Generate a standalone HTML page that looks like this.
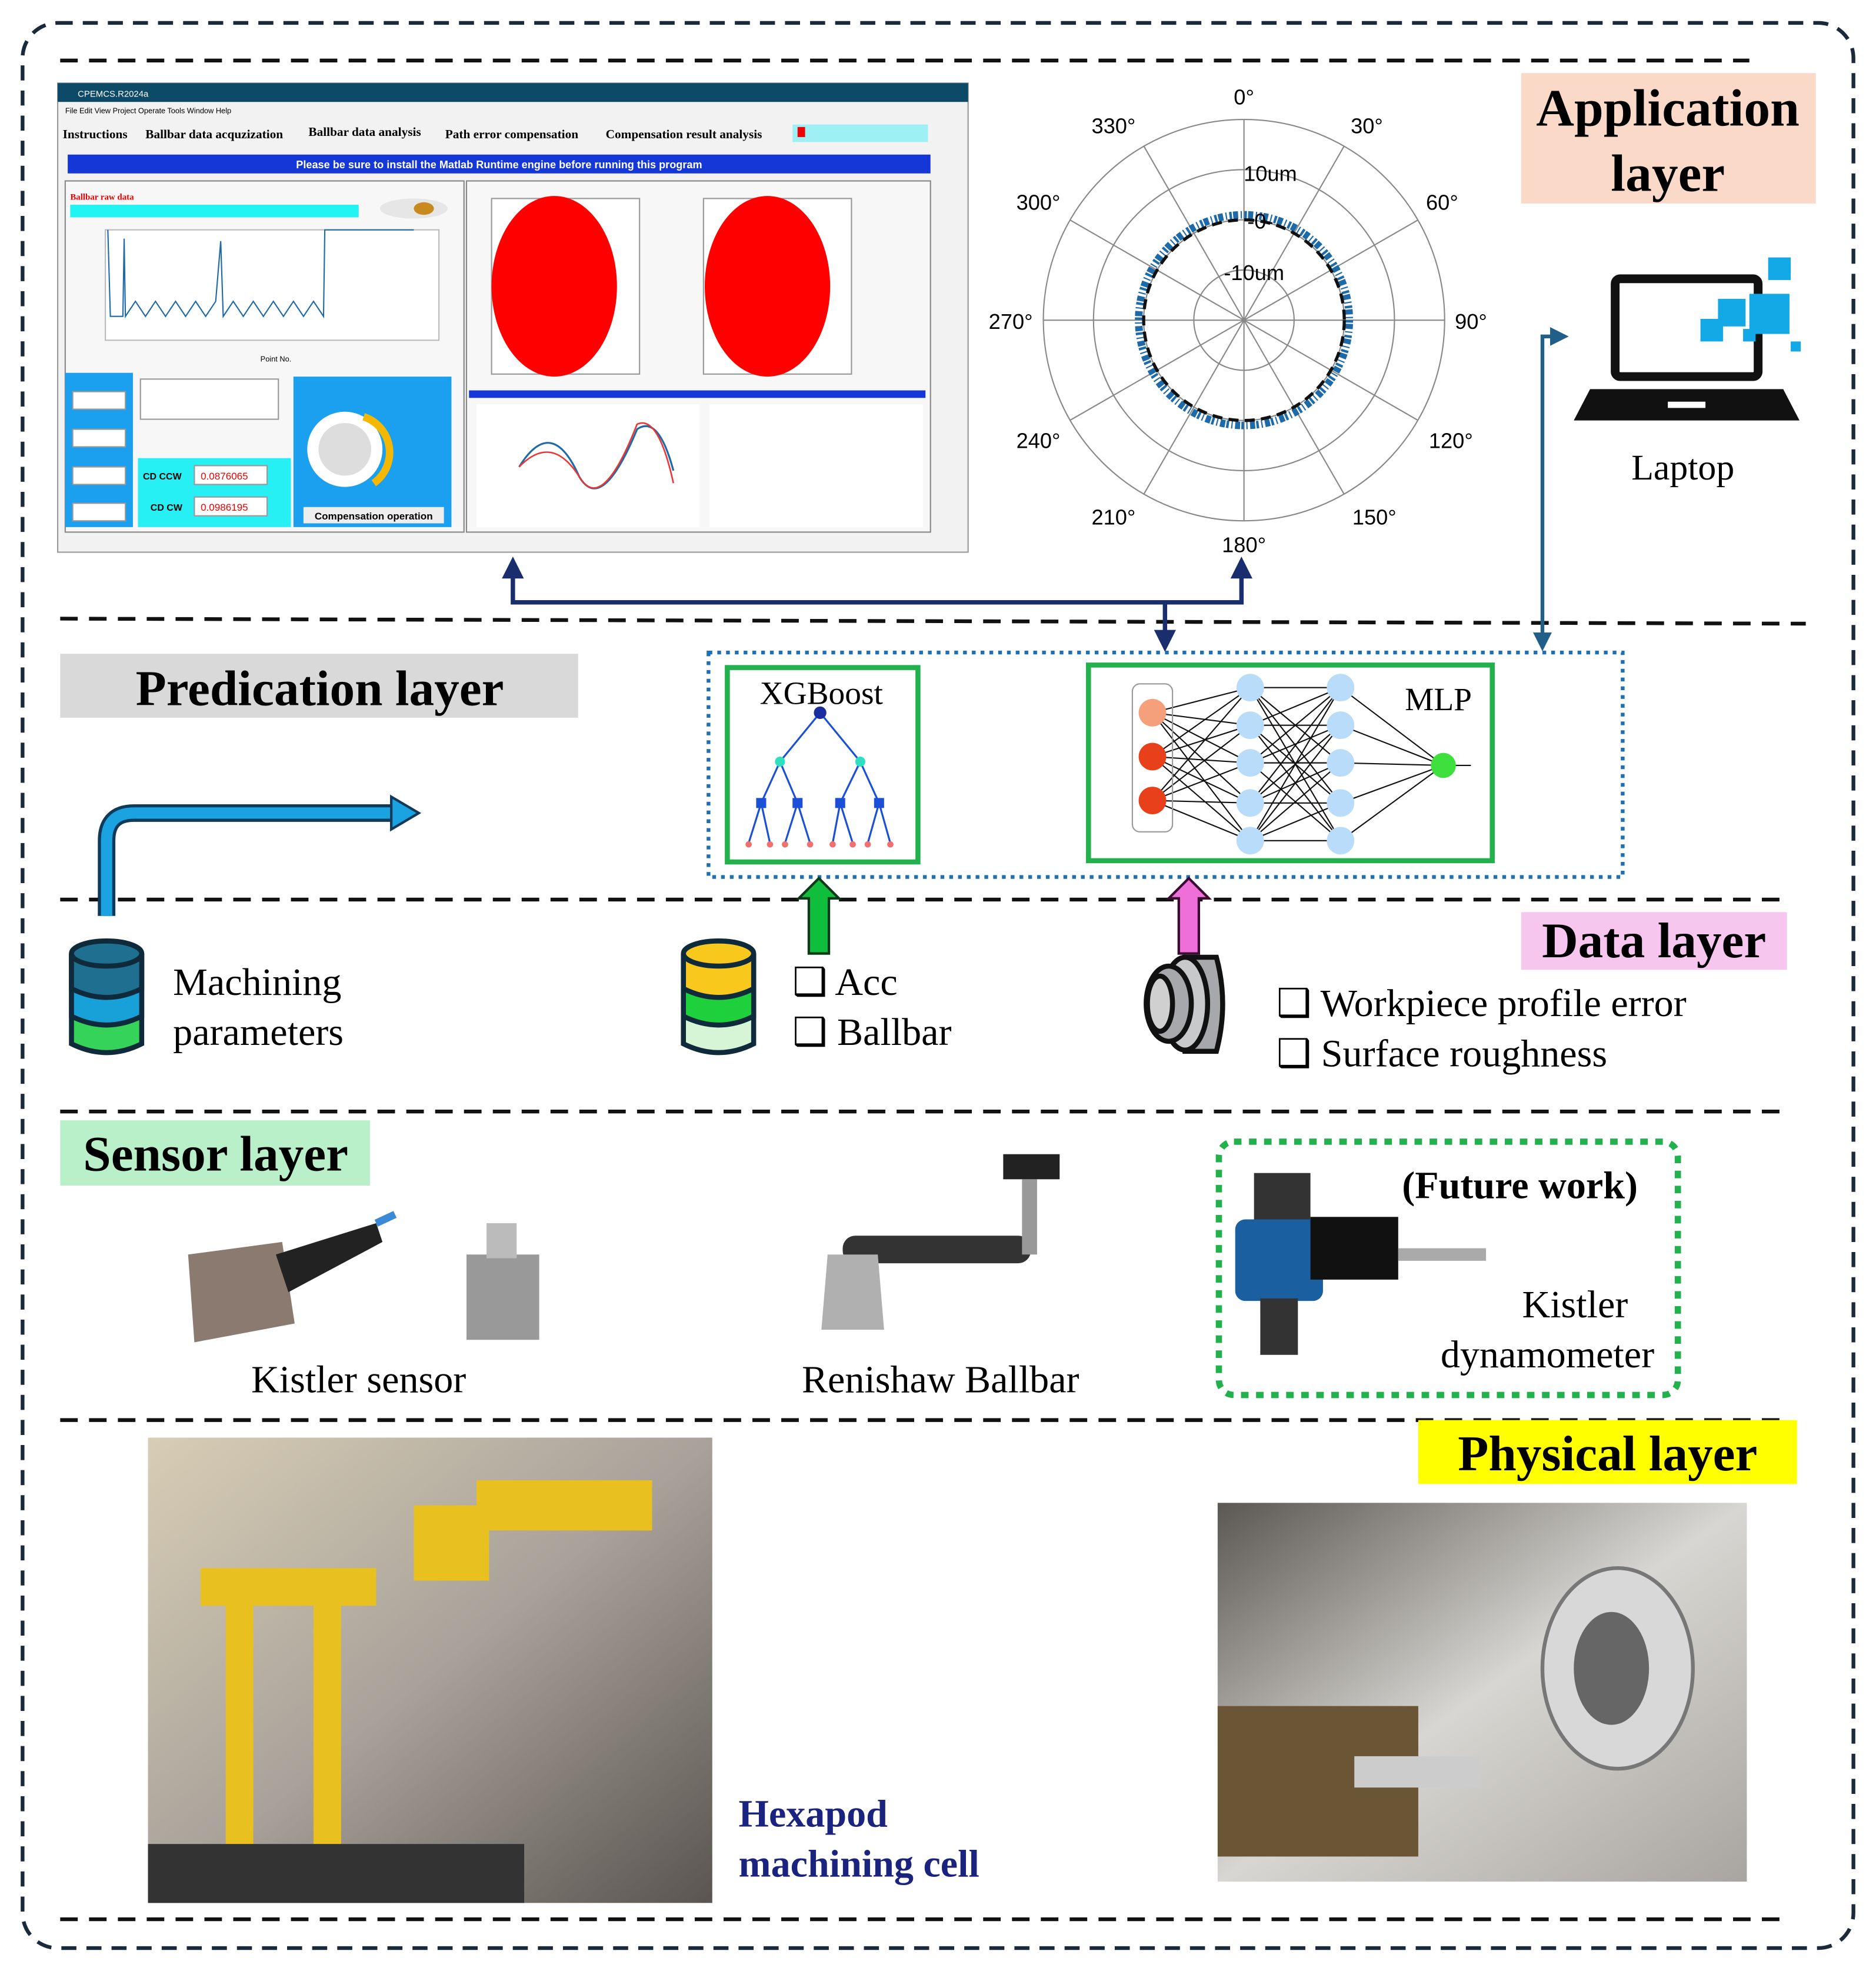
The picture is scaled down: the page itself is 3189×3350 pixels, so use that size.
<!DOCTYPE html>
<html><head><meta charset="utf-8"><style>
html,body{margin:0;padding:0;background:#fff}
svg{display:block}
.s{font-family:"Liberation Serif",serif}
.a{font-family:"Liberation Sans",sans-serif}
</style></head><body>
<svg width="3189" height="3350" viewBox="0 0 1496 1571" xmlns="http://www.w3.org/2000/svg">
<defs>
<marker id="ah" viewBox="0 0 10 10" refX="8" refY="5" markerWidth="5" markerHeight="5" orient="auto-start-reverse"><path d="M0,0L10,5L0,10z" fill="#1a2e6e"/></marker>
<marker id="ah2" viewBox="0 0 10 10" refX="8" refY="5" markerWidth="5" markerHeight="5" orient="auto-start-reverse"><path d="M0,0L10,5L0,10z" fill="#1f5f8a"/></marker>
<linearGradient id="p1" x1="0" y1="0" x2="1" y2="1"><stop offset="0" stop-color="#d8cdb5"/><stop offset="0.5" stop-color="#a8a29a"/><stop offset="1" stop-color="#5a5550"/></linearGradient>
<linearGradient id="p2" x1="0" y1="0" x2="1" y2="1"><stop offset="0" stop-color="#5b5854"/><stop offset="0.5" stop-color="#d8d6d2"/><stop offset="1" stop-color="#a8a5a0"/></linearGradient>
</defs>
<rect x="18" y="18" width="1460" height="1535" rx="28" fill="none" stroke="#1b2a3a" stroke-width="3" stroke-dasharray="12,8"/>
<g stroke="#111" stroke-width="3" stroke-dasharray="14,9">
<line x1="48" y1="48" x2="1395" y2="48"/><line x1="48" y1="493" x2="1440" y2="497"/>
<line x1="48" y1="717" x2="1425" y2="717"/><line x1="48" y1="886" x2="1425" y2="886"/>
<line x1="48" y1="1132" x2="1425" y2="1132"/><line x1="48" y1="1530" x2="1425" y2="1530"/>
</g>
<rect x="1213" y="58" width="235" height="104" fill="#fbd9c9"/>
<text x="1330" y="100" class="s" font-size="42" font-weight="bold" text-anchor="middle">Application</text>
<text x="1330" y="152" class="s" font-size="42" font-weight="bold" text-anchor="middle">layer</text>
<rect x="46" y="66" width="726" height="374" fill="#f2f2f2" stroke="#999"/>
<rect x="46" y="66" width="726" height="15" fill="#0d4a68"/>
<text x="62" y="77" class="a" font-size="7" fill="#fff">CPEMCS.R2024a</text>
<text x="52" y="90" class="a" font-size="6">File  Edit  View  Project  Operate  Tools  Window  Help</text>
<g class="s" font-size="10" font-weight="bold"><text x="50" y="110">Instructions</text><text x="116" y="110">Ballbar data acquzization</text><text x="246" y="108">Ballbar data analysis</text><text x="355" y="110">Path error compensation</text><text x="483" y="110">Compensation result analysis</text></g>
<rect x="632" y="99" width="108" height="14" fill="#9ff0f5"/><rect x="636" y="101" width="6" height="8" fill="#e00"/>
<rect x="54" y="123" width="688" height="15" fill="#1637d8"/>
<text x="398" y="134" class="a" font-size="8.5" fill="#fff" text-anchor="middle" font-weight="bold">Please be sure to install the Matlab Runtime engine before running this program</text>
<rect x="52" y="144" width="318" height="280" fill="#f7f7f7" stroke="#888"/>
<text x="56" y="159" class="s" font-size="7" fill="#e00" font-weight="bold">Ballbar raw data</text>
<rect x="56" y="163" width="230" height="10" fill="#22f3f3"/>
<ellipse cx="330" cy="166" rx="27" ry="8" fill="#e6e6e6"/><ellipse cx="338" cy="166" rx="8" ry="5" fill="#c88a1e"/>
<rect x="84" y="183" width="266" height="88" fill="#fff" stroke="#bbb"/>
<polyline points="86,183 88,252 98,252 99,190 100,252 108,240 116,252 124,240 132,252 140,240 148,252 156,240 164,252 172,240 176,192 178,252 186,240 194,252 202,240 210,252 218,240 226,252 234,240 242,252 250,240 258,252 259,183 330,183" fill="none" stroke="#1e6aa8" stroke-width="1"/>
<text x="220" y="288" class="a" font-size="6" text-anchor="middle">Point No.</text>
<rect x="52" y="297" width="54" height="123" fill="#1aa0ee"/>
<rect x="110" y="365" width="122" height="55" fill="#27f0f5"/>
<rect x="234" y="300" width="126" height="120" fill="#1aa0ee"/>
<g class="a" font-size="7.5" font-weight="bold"><text x="114" y="382">CD CCW</text><text x="120" y="407">CD CW</text></g>
<rect x="155" y="371" width="58" height="15" fill="#fff" stroke="#999"/><text x="160" y="382" class="a" font-size="8" fill="#e00">0.0876065</text>
<rect x="155" y="396" width="58" height="15" fill="#fff" stroke="#999"/><text x="160" y="407" class="a" font-size="8" fill="#e00">0.0986195</text>
<rect x="112" y="302" width="110" height="32" fill="#fff" stroke="#999"/>
<circle cx="275" cy="358" r="30" fill="#fff"/><path d="M290,332 A30,30 0 0,1 298,385" stroke="#f5b800" stroke-width="6" fill="none"/><circle cx="275" cy="358" r="21" fill="#ddd"/>
<rect x="242" y="404" width="112" height="13" fill="#eee"/><text x="298" y="414" class="a" font-size="8" font-weight="bold" text-anchor="middle">Compensation operation</text>
<g fill="#fff" stroke="#999"><rect x="58" y="312" width="42" height="14"/><rect x="58" y="342" width="42" height="14"/><rect x="58" y="372" width="42" height="14"/><rect x="58" y="401" width="42" height="14"/></g>
<rect x="372" y="144" width="370" height="280" fill="#f7f7f7" stroke="#888"/>
<rect x="392" y="158" width="118" height="140" fill="#fff" stroke="#999"/><ellipse cx="442" cy="228" rx="50" ry="72" fill="#f00"/>
<rect x="561" y="158" width="118" height="140" fill="#fff" stroke="#999"/><ellipse cx="612" cy="228" rx="50" ry="72" fill="#f00"/>
<rect x="374" y="311" width="364" height="6" fill="#1637d8"/>
<rect x="380" y="322" width="178" height="98" fill="#fff"/><rect x="566" y="322" width="170" height="98" fill="#fff"/>
<path d="M414,372 Q440,330 462,380 Q480,410 508,342 Q525,330 537,375" fill="none" stroke="#1e6aa8" stroke-width="1.5"/>
<path d="M414,372 Q440,345 462,380 Q480,410 508,338 Q525,330 537,385" fill="none" stroke="#e33" stroke-width="1.2"/>
<g fill="none" stroke="#888" stroke-width="1">
<circle cx="992" cy="255" r="160"/><circle cx="992" cy="255" r="120"/><circle cx="992" cy="255" r="80"/><circle cx="992" cy="255" r="40"/>
<line x1="992" y1="95" x2="992" y2="415"/><line x1="832" y1="255" x2="1152" y2="255"/>
<line x1="912" y1="116" x2="1072" y2="394"/><line x1="1072" y1="116" x2="912" y2="394"/>
<line x1="853" y1="175" x2="1131" y2="335"/><line x1="1131" y1="175" x2="853" y2="335"/>
</g>
<circle cx="992" cy="255" r="84" fill="none" stroke="#1e6aa8" stroke-width="6" stroke-dasharray="2,1,4,2,1,2"/>
<circle cx="992" cy="255" r="80" fill="none" stroke="#111" stroke-width="2.5" stroke-dasharray="8,5"/>
<g class="a" font-size="17" text-anchor="middle"><text x="992" y="83">0°</text><text x="1090" y="106">30°</text><text x="1150" y="167">60°</text><text x="1173" y="262">90°</text><text x="1157" y="357">120°</text><text x="1096" y="418">150°</text><text x="992" y="440">180°</text><text x="888" y="418">210°</text><text x="828" y="357">240°</text><text x="806" y="262">270°</text><text x="828" y="167">300°</text><text x="888" y="106">330°</text>
<text x="1013" y="144">10um</text><text x="1005" y="182">-0-</text><text x="1000" y="223">-10um</text></g>
<rect x="1288" y="222" width="114" height="78" rx="4" fill="none" stroke="#111" stroke-width="7"/>
<path d="M1268,310 L1422,310 L1435,335 L1255,335 Z" fill="#111"/><rect x="1330" y="320" width="30" height="5" fill="#fff"/>
<g fill="#13a9e6"><rect x="1410" y="205" width="18" height="18"/><rect x="1395" y="234" width="32" height="32"/><rect x="1370" y="238" width="22" height="22"/><rect x="1356" y="254" width="18" height="18"/><rect x="1428" y="272" width="8" height="8"/><rect x="1390" y="262" width="10" height="10"/></g>
<text x="1342" y="382" class="s" font-size="29" text-anchor="middle">Laptop</text>
<polyline points="409,447 409,480 990,480 990,447" fill="none" stroke="#1a2e6e" stroke-width="3.5" marker-start="url(#ah)" marker-end="url(#ah)"/>
<line x1="929" y1="480" x2="929" y2="516" stroke="#1a2e6e" stroke-width="3.5" marker-end="url(#ah)"/>
<polyline points="1230,516 1230,268 1248,268" fill="none" stroke="#1f5f8a" stroke-width="3" marker-start="url(#ah2)" marker-end="url(#ah2)"/>
<rect x="48" y="521" width="413" height="51" fill="#d9d9d9"/>
<text x="255" y="562" class="s" font-size="40" font-weight="bold" text-anchor="middle">Predication layer</text>
<path d="M85,730 L85,670 Q85,648 107,648 L315,648" fill="none" stroke="#0f3a5a" stroke-width="14"/>
<path d="M85,730 L85,670 Q85,648 107,648 L315,648" fill="none" stroke="#1aa3e0" stroke-width="9"/>
<path d="M312,635 L334,648 L312,661 Z" fill="#1aa3e0" stroke="#0f3a5a" stroke-width="2"/>
<rect x="565" y="520" width="729" height="179" fill="none" stroke="#1f6fb5" stroke-width="3" stroke-dasharray="3,4"/>
<rect x="580" y="532" width="152" height="155" fill="#fff" stroke="#22b14c" stroke-width="4"/>
<text x="655" y="561" class="s" font-size="26" text-anchor="middle">XGBoost</text>
<g stroke="#1b4fd6" stroke-width="1.5" fill="none"><path d="M654,568 L622,607 M654,568 L686,607 M622,607 L607,640 M622,607 L636,640 M686,607 L670,640 M686,607 L701,640 M607,640 L597,672 M607,640 L614,672 M636,640 L626,672 M636,640 L646,672 M670,640 L664,672 M670,640 L680,672 M701,640 L692,672 M701,640 L710,672"/></g>
<g fill="#f07070"><circle cx="597" cy="673" r="2.5"/><circle cx="614" cy="673" r="2.5"/><circle cx="626" cy="673" r="2.5"/><circle cx="646" cy="673" r="2.5"/><circle cx="664" cy="673" r="2.5"/><circle cx="680" cy="673" r="2.5"/><circle cx="692" cy="673" r="2.5"/><circle cx="710" cy="673" r="2.5"/></g>
<circle cx="654" cy="568" r="5" fill="#1a2ea0"/><circle cx="622" cy="607" r="4" fill="#2ee0c0"/><circle cx="686" cy="607" r="4" fill="#2ee0c0"/>
<g fill="#1b4fd6"><rect x="603" y="636" width="8" height="8"/><rect x="632" y="636" width="8" height="8"/><rect x="666" y="636" width="8" height="8"/><rect x="697" y="636" width="8" height="8"/></g>
<rect x="868" y="530" width="322" height="156" fill="#fff" stroke="#22b14c" stroke-width="4"/>
<text x="1147" y="566" class="s" font-size="26" text-anchor="middle">MLP</text>
<g stroke="#111" stroke-width="1">
<path d="M919,568 L997,548 M919,568 L997,578 M919,568 L997,608 M919,568 L997,640 M919,568 L997,670 M919,603 L997,548 M919,603 L997,578 M919,603 L997,608 M919,603 L997,640 M919,603 L997,670 M919,638 L997,548 M919,638 L997,578 M919,638 L997,608 M919,638 L997,640 M919,638 L997,670"/>
<path d="M997,548 L1069,548 L997,578 L1069,578 L997,608 L1069,608 L997,640 L1069,640 L997,670 L1069,670 M997,548 L1069,608 M997,548 L1069,640 M997,548 L1069,670 M997,578 L1069,640 M997,578 L1069,670 M997,608 L1069,670 M1069,548 L997,608 M1069,548 L997,640 M1069,548 L997,670 M1069,578 L997,640 M1069,578 L997,670 M1069,608 L997,670" fill="none"/>
<path d="M1069,548 L1151,610 M1069,578 L1151,610 M1069,608 L1151,610 M1069,640 L1151,610 M1069,670 L1151,610 M1151,610 L1173,610"/>
</g>
<rect x="903" y="545" width="32" height="118" rx="6" fill="none" stroke="#999"/>
<circle cx="919" cy="568" r="11" fill="#f5a07a"/><circle cx="919" cy="603" r="11" fill="#e8401a"/><circle cx="919" cy="638" r="11" fill="#e8401a"/>
<g fill="#b9dcfb"><circle cx="997" cy="548" r="11"/><circle cx="997" cy="578" r="11"/><circle cx="997" cy="608" r="11"/><circle cx="997" cy="640" r="11"/><circle cx="997" cy="670" r="11"/><circle cx="1069" cy="548" r="11"/><circle cx="1069" cy="578" r="11"/><circle cx="1069" cy="608" r="11"/><circle cx="1069" cy="640" r="11"/><circle cx="1069" cy="670" r="11"/></g>
<circle cx="1151" cy="610" r="10" fill="#3ee03e"/>
<path d="M645,760 L645,716 L637,716 L653,700 L669,716 L661,716 L661,760 Z" fill="#0fbf3c" stroke="#0a3a1a" stroke-width="2"/>
<path d="M940,760 L940,716 L932,716 L948,700 L964,716 L956,716 L956,760 Z" fill="#ef6fd8" stroke="#3a0a30" stroke-width="2"/>
<rect x="1213" y="727" width="212" height="46" fill="#f7c6ef"/>
<text x="1319" y="763" class="s" font-size="40" font-weight="bold" text-anchor="middle">Data layer</text>
<g stroke="#0f2a3a" stroke-width="4">
<path d="M57,760 L57,832 Q85,846 113,832 L113,760" fill="#35d35a"/><path d="M57,760 L57,810 Q85,824 113,810 L113,760" fill="#18a0d8"/><path d="M57,760 L57,788 Q85,802 113,788 L113,760" fill="#1f6f90"/><ellipse cx="85" cy="760" rx="28" ry="10" fill="#1f6f90"/>
<path d="M545,760 L545,832 Q573,846 601,832 L601,760" fill="#d6f5d6"/><path d="M545,760 L545,810 Q573,824 601,810 L601,760" fill="#1ed03c"/><path d="M545,760 L545,788 Q573,802 601,788 L601,760" fill="#f8c81c"/><ellipse cx="573" cy="760" rx="28" ry="10" fill="#f8c81c"/>
</g>
<g stroke="#111" stroke-width="4"><path d="M945,763 L970,763 Q980,800 970,838 L945,838 Z" fill="#a6a8ab"/><ellipse cx="945" cy="800" rx="18" ry="37" fill="#c8c9cb"/><ellipse cx="932" cy="800" rx="18" ry="30" fill="#a6a8ab"/><ellipse cx="925" cy="800" rx="10" ry="22" fill="#d0d0d0"/></g>
<g class="s" font-size="31"><text x="138" y="793">Machining</text><text x="138" y="833">parameters</text>
<text x="632" y="793">❑ Acc</text><text x="632" y="833">❑ Ballbar</text>
<text x="1018" y="810">❑ Workpiece profile error</text><text x="1018" y="850">❑ Surface roughness</text></g>
<rect x="48" y="893" width="247" height="52" fill="#b9efc9"/>
<text x="172" y="933" class="s" font-size="40" font-weight="bold" text-anchor="middle">Sensor layer</text>
<path d="M150,1000 L225,990 L235,1055 L155,1070 Z" fill="#8a7a70"/><path d="M220,1000 L300,975 L305,990 L230,1030 Z" fill="#222"/><path d="M300,975 L315,968" stroke="#3a8ad8" stroke-width="6"/>
<rect x="372" y="1000" width="58" height="68" fill="#999"/><rect x="388" y="975" width="24" height="28" fill="#bbb"/>
<text x="286" y="1110" class="s" font-size="31" text-anchor="middle">Kistler sensor</text>
<rect x="672" y="985" width="150" height="22" rx="10" fill="#333"/><rect x="800" y="920" width="45" height="20" fill="#222"/><rect x="815" y="940" width="12" height="60" fill="#999"/>
<path d="M660,1000 L700,1000 L705,1060 L655,1060 Z" fill="#b0b0b0"/>
<text x="750" y="1110" class="s" font-size="31" text-anchor="middle">Renishaw Ballbar</text>
<rect x="972" y="910" width="366" height="202" rx="12" fill="none" stroke="#22b14c" stroke-width="5" stroke-dasharray="6,6"/>
<rect x="1000" y="935" width="45" height="40" fill="#333"/><rect x="985" y="972" width="70" height="65" rx="8" fill="#1a5fa0"/><rect x="1045" y="970" width="70" height="50" fill="#111"/><rect x="1115" y="995" width="70" height="10" fill="#aaa"/><rect x="1005" y="1035" width="30" height="45" fill="#333"/>
<g class="s" font-size="31" text-anchor="middle"><text x="1212" y="955" font-weight="bold">(Future work)</text><text x="1256" y="1050">Kistler</text><text x="1234" y="1090">dynamometer</text></g>
<rect x="1131" y="1132" width="302" height="51" fill="#ffff00"/>
<text x="1282" y="1172" class="s" font-size="40" font-weight="bold" text-anchor="middle">Physical layer</text>
<rect x="118" y="1146" width="450" height="371" fill="url(#p1)"/>
<g fill="#e8c020"><rect x="180" y="1270" width="22" height="200"/><rect x="250" y="1270" width="22" height="200"/><rect x="330" y="1200" width="60" height="60"/><rect x="380" y="1180" width="140" height="40"/><rect x="160" y="1250" width="140" height="30"/></g>
<rect x="118" y="1470" width="300" height="47" fill="#333"/>
<rect x="971" y="1198" width="422" height="302" fill="url(#p2)"/>
<ellipse cx="1290" cy="1330" rx="60" ry="80" fill="#d8d8d8" stroke="#777" stroke-width="3"/><ellipse cx="1285" cy="1330" rx="30" ry="45" fill="#666"/>
<rect x="971" y="1360" width="160" height="120" fill="#6a5535"/><rect x="1080" y="1400" width="100" height="25" fill="#ccc"/>
<g class="s" font-size="31" font-weight="bold" fill="#1a237e"><text x="589" y="1456">Hexapod</text><text x="589" y="1496">machining cell</text></g>
</svg>
</body></html>
